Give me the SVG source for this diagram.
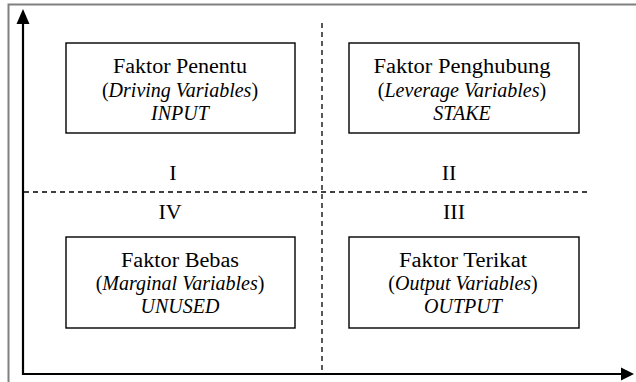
<svg xmlns="http://www.w3.org/2000/svg" width="636" height="382" viewBox="0 0 636 382">
<style>
.box{fill:#fff;stroke:#000;stroke-width:1.4}
.t{font-family:"Liberation Serif","Times New Roman",serif;font-size:20px;fill:#000;text-anchor:middle}
.i{font-style:italic}
.n{font-size:22px}
.axis{stroke:#000;stroke-width:2.2;fill:none}
.dash{stroke:#000;stroke-width:1.3;stroke-dasharray:5 4;fill:none}
</style>
<rect width="636" height="382" fill="#fff"/>
<path d="M8.5,382 V4.5 H636" fill="none" stroke="#808080" stroke-width="2"/>
<g id="connectors">
<line class="dash" x1="322" y1="23" x2="322" y2="373"/>
<line class="dash" x1="24" y1="192" x2="588" y2="192"/>
<path class="axis" d="M23,375 V23"/>
<polygon points="23,9 16.5,24 29.5,24" fill="#000"/>
<path class="axis" d="M22,374 H622"/>
<polygon points="634,374 621,367.5 621,380.5" fill="#000"/>
</g>
<g id="q1">
<rect class="box" x="66" y="43" width="229" height="90"/>
<text class="t" x="180" y="73" textLength="134" lengthAdjust="spacingAndGlyphs">Faktor Penentu</text>
<text class="t" x="180" y="97">(<tspan class="i">Driving Variables</tspan>)</text>
<text class="t i" x="180" y="120">INPUT</text>
<text class="t n" x="173" y="180">I</text>
</g>
<g id="q2">
<rect class="box" x="349" y="43" width="230" height="90"/>
<text class="t" x="462" y="73" textLength="177" lengthAdjust="spacingAndGlyphs">Faktor Penghubung</text>
<text class="t" x="462" y="97">(<tspan class="i">Leverage Variables</tspan>)</text>
<text class="t i" x="462" y="120">STAKE</text>
<text class="t n" x="449" y="180">II</text>
</g>
<g id="q4">
<rect class="box" x="66" y="237" width="229" height="91"/>
<text class="t" x="180" y="267" textLength="118" lengthAdjust="spacingAndGlyphs">Faktor Bebas</text>
<text class="t" x="180" y="290">(<tspan class="i">Marginal Variables</tspan>)</text>
<text class="t i" x="180" y="313">UNUSED</text>
<text class="t n" x="170" y="219">IV</text>
</g>
<g id="q3">
<rect class="box" x="349" y="237" width="230" height="91"/>
<text class="t" x="463" y="267" textLength="128" lengthAdjust="spacingAndGlyphs">Faktor Terikat</text>
<text class="t" x="463" y="290">(<tspan class="i">Output Variables</tspan>)</text>
<text class="t i" x="463" y="313">OUTPUT</text>
<text class="t n" x="454" y="219">III</text>
</g>
</svg>
